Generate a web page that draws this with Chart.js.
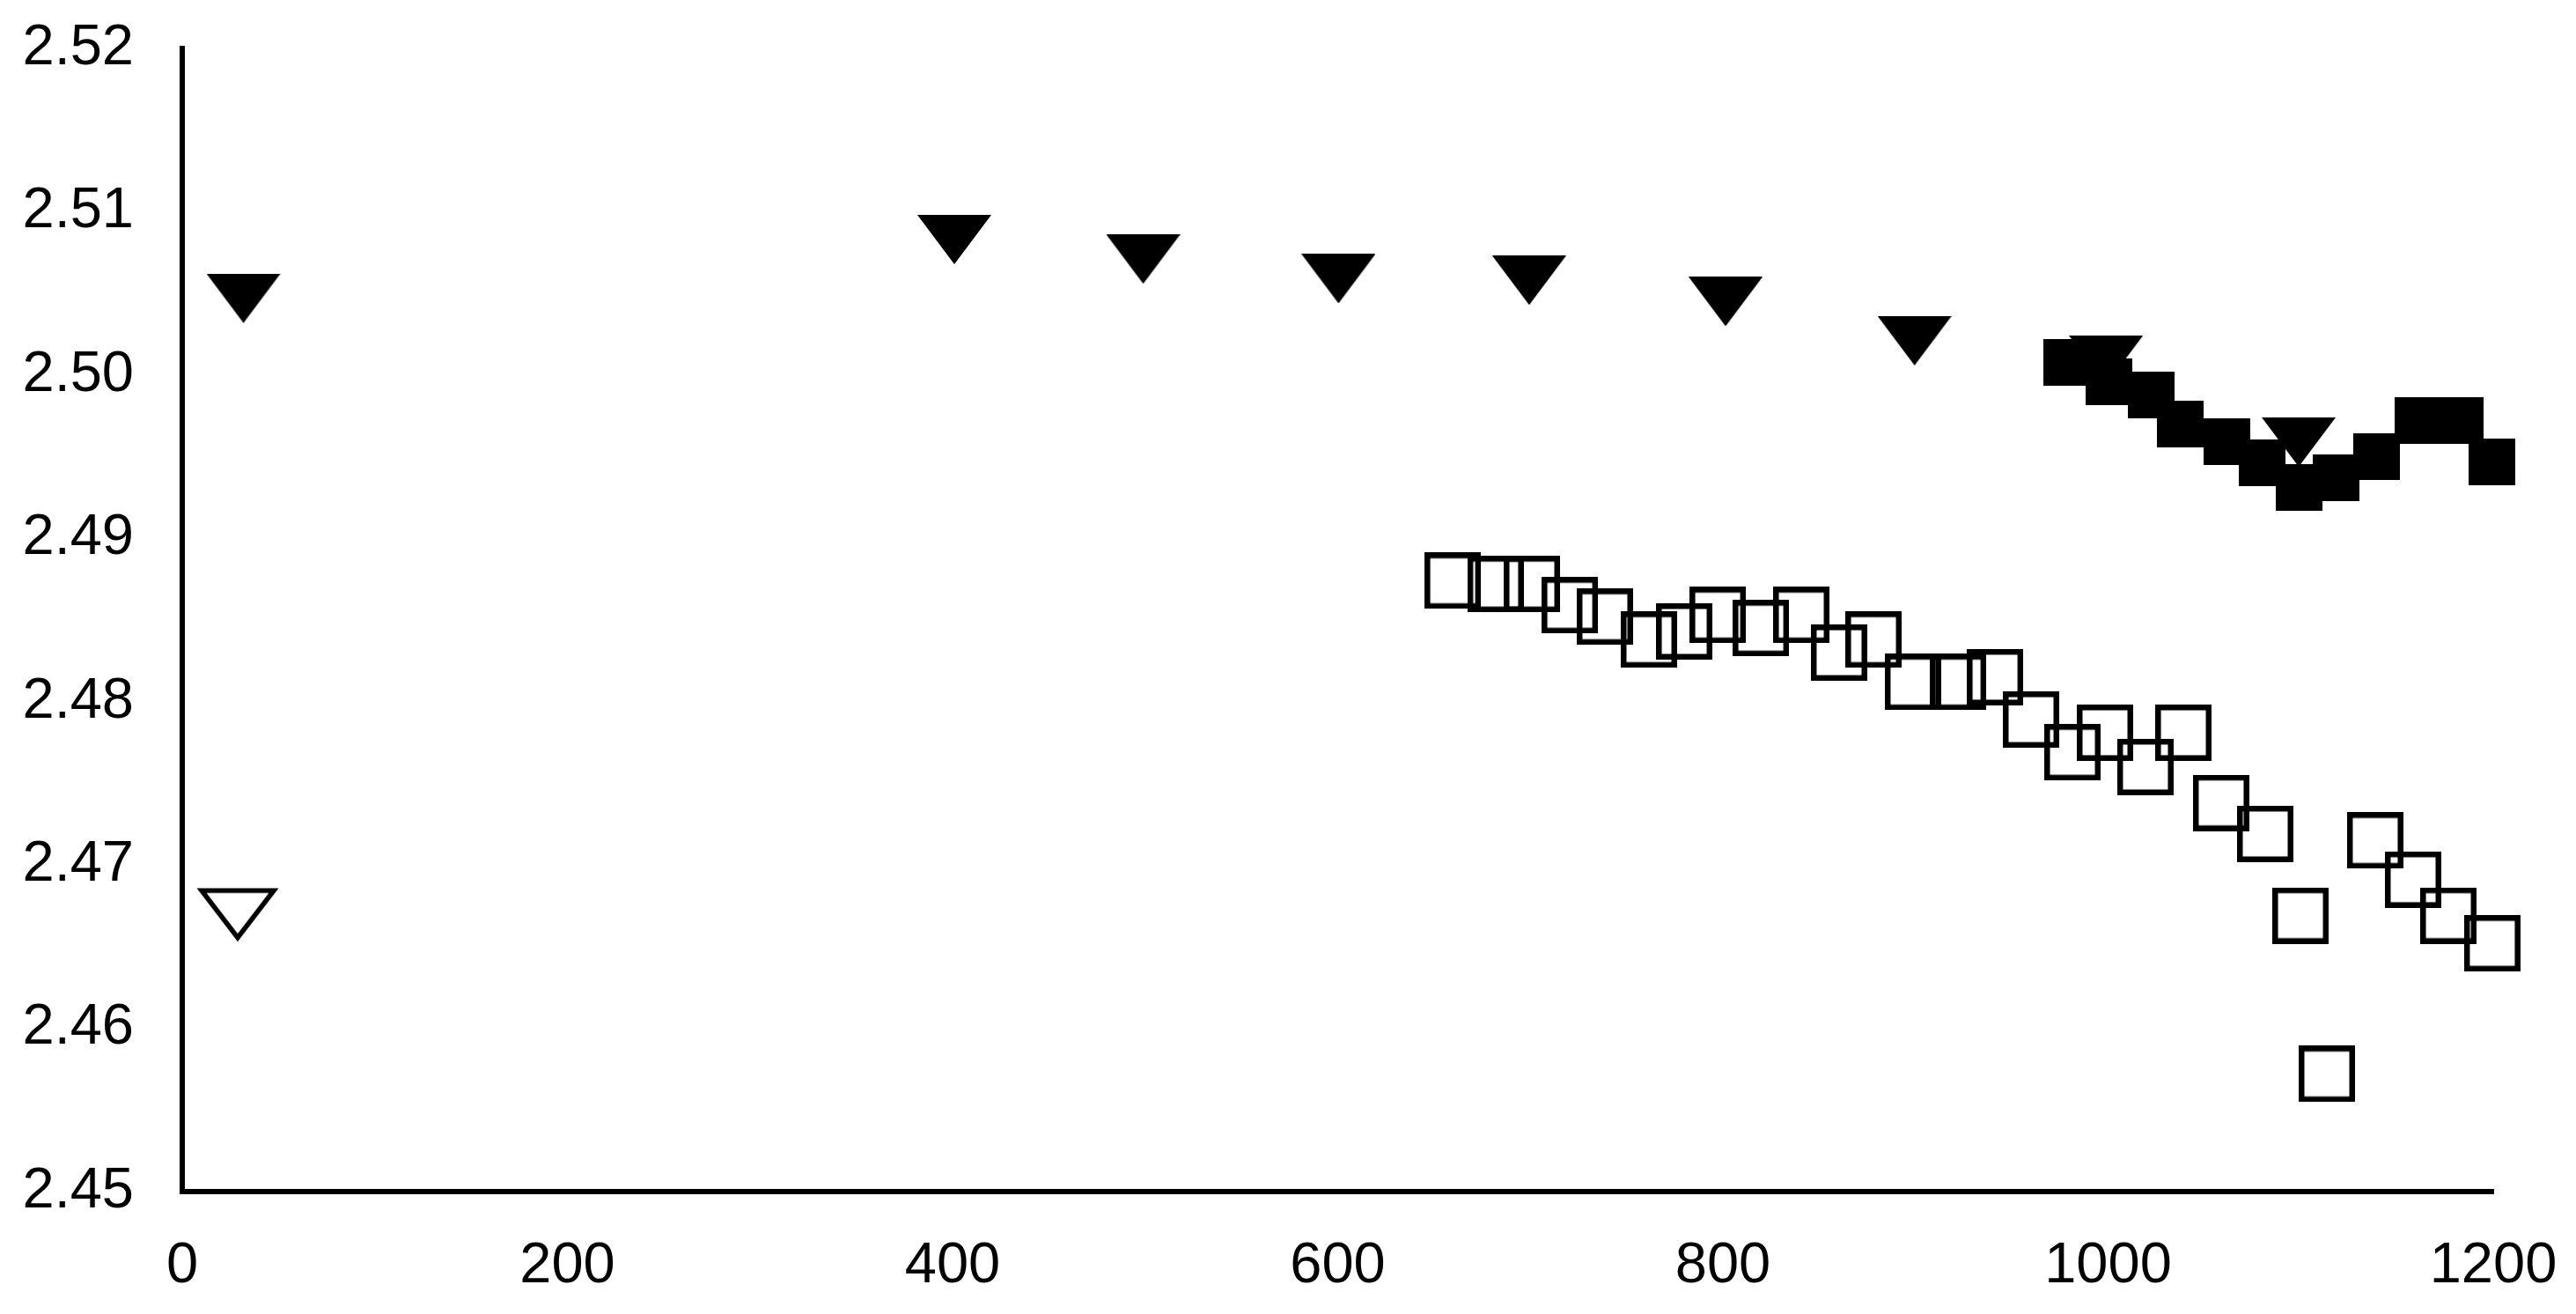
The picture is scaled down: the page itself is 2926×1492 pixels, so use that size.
<!DOCTYPE html>
<html>
<head>
<meta charset="utf-8">
<script src="https://cdn.jsdelivr.net/npm/chart.js@4/dist/chart.umd.min.js"></script>
<style>
  html, body { margin: 0; padding: 0; background: #ffffff; }
  #wrap { width: 2926px; height: 1492px; }
</style>
</head>
<body>
<div id="wrap"><canvas id="c" width="2926" height="1492"></canvas></div>
<script>
// ---- data ----
const filledTriX = [31.8, 400.9, 499.0, 600.4, 699.4, 801.4, 899.5, 998.9, 1099.0];
const filledTriY = [2.5047, 2.5083, 2.5071, 2.5059, 2.5058, 2.5045, 2.5021, 2.5009, 2.4959];

const openTriX = [28.8];
const openTriY = [2.4669];

const filledSqX = [978.7, 1000.5, 1022.2, 1037.5, 1061.8, 1080.0, 1099.3, 1118.6, 1139.2, 1160.7, 1182.9, 1199.1];
const filledSqY = [2.5008, 2.4996, 2.4988, 2.4970, 2.4959, 2.4946, 2.4931, 2.4937, 2.4950, 2.4972, 2.4972, 2.4947];

const openSqX = [659.7, 682.0, 700.8, 720.5, 738.7, 761.6, 779.9, 797.3, 819.7, 840.7, 860.3, 878.2, 898.7, 922.1,
                 941.3, 960.0, 981.5, 998.4, 1019.4, 1039.1, 1058.7, 1081.6, 1099.9, 1113.6, 1138.7, 1158.4, 1176.7, 1199.5];
const openSqY = [2.4874, 2.4872, 2.4872, 2.4859, 2.4852, 2.4838, 2.4843, 2.4853, 2.4845, 2.4853, 2.4830, 2.4838, 2.4812, 2.4812,
                 2.4815, 2.4789, 2.4769, 2.4781, 2.4760, 2.4781, 2.4738, 2.4719, 2.4669, 2.4572, 2.4715, 2.4691, 2.4669, 2.4652];

const xTicks = [0, 200, 400, 600, 800, 1000, 1200];
const xTickLabels = ['0', '200', '400', '600', '800', '1000', '1200'];
const yTicks = [2.45, 2.46, 2.47, 2.48, 2.49, 2.50, 2.51, 2.52];
const yTickLabels = ['2.45', '2.46', '2.47', '2.48', '2.49', '2.50', '2.51', '2.52'];

// ---- marker images ----
function mk(w, h, draw) {
  const c = document.createElement('canvas');
  c.width = w; c.height = h;
  const g = c.getContext('2d');
  draw(g, w, h);
  return c;
}
const triFilled = mk(84, 56, (g, w, h) => {
  g.fillStyle = '#000';
  g.beginPath(); g.moveTo(0, 0); g.lineTo(w, 0); g.lineTo(w / 2, h); g.closePath(); g.fill();
});
const triOpen = mk(96, 64, (g, w, h) => {
  g.strokeStyle = '#000'; g.lineWidth = 5.5; g.lineJoin = 'miter';
  g.beginPath(); g.moveTo(7, 3.5); g.lineTo(89, 3.5); g.lineTo(48, 57); g.closePath(); g.stroke();
});
const sqFilled = mk(53, 53, (g, w, h) => {
  g.fillStyle = '#000'; g.fillRect(0, 0, w, h);
});
const sqOpen = mk(64, 64, (g, w, h) => {
  g.strokeStyle = '#000'; g.lineWidth = 6.5;
  g.strokeRect(3.25, 3.25, w - 6.5, h - 6.5);
});

function pts(xs, ys) { return xs.map((x, i) => ({ x: x, y: ys[i] })); }

const font = { family: '"Liberation Sans", Arial, sans-serif', size: 65 };

new Chart(document.getElementById('c'), {
  type: 'scatter',
  data: {
    datasets: [
      { data: pts(filledTriX, filledTriY), pointStyle: triFilled, pointRadius: 45, clip: false },
      { data: pts(openTriX, openTriY), pointStyle: triOpen, pointRadius: 45, clip: false },
      { data: pts(filledSqX, filledSqY), pointStyle: sqFilled, pointRadius: 45, clip: false },
      { data: pts(openSqX, openSqY), pointStyle: sqOpen, pointRadius: 45, clip: false }
    ]
  },
  options: {
    responsive: false,
    devicePixelRatio: 1,
    animation: false,
    layout: { padding: { left: 0, top: 55, right: 94, bottom: 0 } },
    plugins: { legend: { display: false }, tooltip: { enabled: false }, title: { display: false } },
    scales: {
      x: {
        type: 'linear', min: 0, max: 1200,
        afterBuildTicks: s => { s.ticks = xTicks.map(v => ({ value: v })); },
        afterFit: s => { s.height = 139; s.paddingLeft = 0; s.paddingRight = 0; },
        grid: { color: 'rgba(0,0,0,0)', drawTicks: false },
        border: { display: true, color: '#000', width: 6 },
        ticks: { color: '#000', font: font, padding: 46, maxRotation: 0, autoSkip: false,
                 callback: (v, i) => xTickLabels[i] }
      },
      y: {
        type: 'linear', min: 2.45, max: 2.52,
        afterBuildTicks: s => { s.ticks = yTicks.map(v => ({ value: v })); },
        afterFit: s => { s.width = 207; s.paddingTop = 0; s.paddingBottom = 0; },
        grid: { color: 'rgba(0,0,0,0)', drawTicks: false },
        border: { display: true, color: '#000', width: 6 },
        ticks: { color: '#000', font: font, padding: 55, autoSkip: false,
                 callback: (v, i) => yTickLabels[i] }
      }
    }
  }
});
</script>
</body>
</html>
